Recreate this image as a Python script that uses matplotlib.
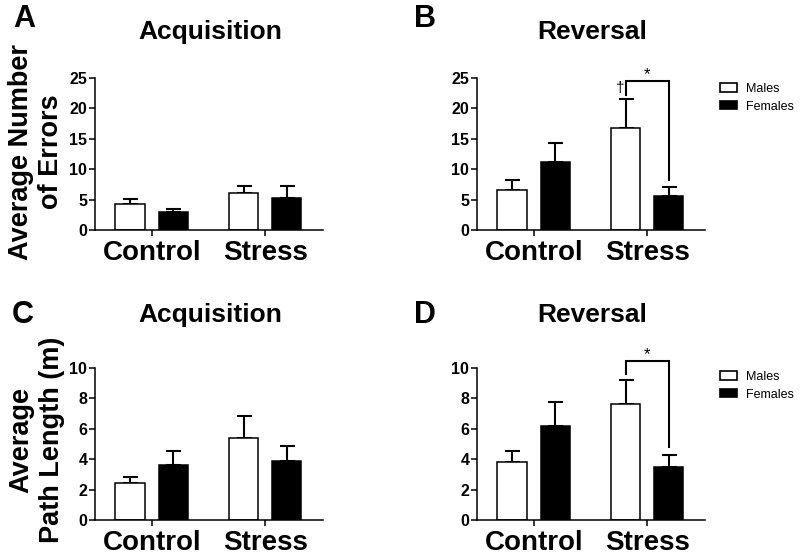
import matplotlib
matplotlib.use("Agg")
import matplotlib.pyplot as plt
from matplotlib.patches import Patch
import numpy as np

plt.rcParams['font.family'] = ['Liberation Sans', 'DejaVu Sans']

categories = ["Control", "Stress"]
groups = ["Males", "Females"]

# Panel A: acquisition errors
acq_err_m = [4.3, 6.15]
acq_err_m_sem = [0.75, 1.15]
acq_err_f = [2.9, 5.3]
acq_err_f_sem = [0.5, 2.0]
# Panel B: reversal errors
rev_err_m = [6.6, 16.75]
rev_err_m_sem = [1.65, 4.85]
rev_err_f = [11.15, 5.65]
rev_err_f_sem = [3.15, 1.4]
# Panel C: acquisition path length
acq_path_m = [2.4, 5.4]
acq_path_m_sem = [0.45, 1.42]
acq_path_f = [3.6, 3.87]
acq_path_f_sem = [0.93, 1.0]
# Panel D: reversal path length
rev_path_m = [3.83, 7.6]
rev_path_m_sem = [0.72, 1.62]
rev_path_f = [6.2, 3.5]
rev_path_f_sem = [1.57, 0.77]

W, H = 800, 557
fig = plt.figure(figsize=(W / 100, H / 100), dpi=100)

def fx(px):
    return px / W

def fy(py):
    return 1 - py / H

LW = 1.1
offset = 0.19
bw = 0.26

def make_panel(rect, m, msem, f, fsem, ymax, step, title, title_xy, letter, letter_xy):
    ax = fig.add_axes(rect)
    x = np.arange(len(categories))
    ax.bar(x - offset, m, width=bw, color='white', edgecolor='black', linewidth=LW, zorder=2)
    ax.bar(x + offset, f, width=bw, color='black', edgecolor='black', linewidth=LW, zorder=2)
    ax.errorbar(x - offset, m, yerr=[np.zeros(len(m)), msem], fmt='none', ecolor='black',
                elinewidth=1.5, capsize=5.4, capthick=1.5, zorder=1)
    ax.errorbar(x + offset, f, yerr=[np.zeros(len(f)), fsem], fmt='none', ecolor='black',
                elinewidth=1.5, capsize=5.4, capthick=1.5, zorder=1)
    ax.set_xlim(-0.5, 1.51)
    ax.set_ylim(0, ymax)
    ax.set_yticks(np.arange(0, ymax + 0.01, step))
    ax.set_xticks(x)
    ax.set_xticklabels(categories, fontsize=20, fontweight='bold')
    for lab in ax.get_yticklabels():
        lab.set_fontweight('bold')
        lab.set_fontsize(11.5)
    ax.tick_params(axis='y', length=4, width=LW, pad=1.5)
    ax.tick_params(axis='x', length=4, width=LW, pad=3)
    for s in ['top', 'right']:
        ax.spines[s].set_visible(False)
    for s in ['left', 'bottom']:
        ax.spines[s].set_linewidth(LW)
    fig.text(fx(title_xy[0]), fy(title_xy[1]), title, fontsize=19, fontweight='bold',
             ha='center', va='baseline')
    fig.text(fx(letter_xy[0]), fy(letter_xy[1]), letter, fontsize=22, fontweight='bold',
             ha='center', va='baseline')
    return ax

def add_legend(ax, top_px):
    handles = [Patch(facecolor='white', edgecolor='black', linewidth=1.2, label=groups[0]),
               Patch(facecolor='black', edgecolor='black', linewidth=1.2, label=groups[1])]
    ax.legend(handles=handles, loc='upper left', bbox_to_anchor=(fx(720), fy(top_px)),
              bbox_transform=fig.transFigure, frameon=False, fontsize=9,
              handlelength=1.35, handleheight=0.65, handletextpad=0.7,
              labelspacing=0.45, borderpad=0, borderaxespad=0)

def add_bracket(ax, xl, xr, ytop, yl, yr, star_y):
    ax.plot([xl, xl, xr, xr], [yl, ytop, ytop, yr], color='black', lw=1.5,
            clip_on=False, zorder=3, solid_joinstyle='miter')
    ax.text((xl + xr) / 2, star_y, '*', ha='center', va='center', fontsize=12,
            clip_on=False)

axA = make_panel([fx(95), fy(230), fx(228), 152 / H], acq_err_m, acq_err_m_sem,
                 acq_err_f, acq_err_f_sem, 25, 5, "Acquisition", (210, 39), "A", (24, 27))
axB = make_panel([fx(477), fy(230), fx(228), 152 / H], rev_err_m, rev_err_m_sem,
                 rev_err_f, rev_err_f_sem, 25, 5, "Reversal", (592, 39), "B", (425, 27))
axC = make_panel([fx(95), fy(520), fx(228), 152.3 / H], acq_path_m, acq_path_m_sem,
                 acq_path_f, acq_path_f_sem, 10, 2, "Acquisition", (210, 322), "C", (23, 323))
axD = make_panel([fx(477), fy(520), fx(228), 152.3 / H], rev_path_m, rev_path_m_sem,
                 rev_path_f, rev_path_f_sem, 10, 2, "Reversal", (592, 322), "D", (425, 323))

add_legend(axB, 83)
add_legend(axD, 371)

# significance brackets
add_bracket(axB, 1 - offset, 1 + offset, 24.45, 22.25,
            rev_err_f[1] + rev_err_f_sem[1] + 1.2, 25.6)
axB.text(1 - offset - 0.05, 23.3, '\u2020', ha='center', va='center', fontsize=11,
         clip_on=False)
add_bracket(axD, 1 - offset, 1 + offset, 10.44, 9.56,
            rev_path_f[1] + rev_path_f_sem[1] + 0.55, 10.85)

# y labels
fig.text(fx(36), fy(152), "Average Number\nof Errors", rotation=90, fontsize=19.5,
         fontweight='bold', ha='center', va='center', multialignment='center',
         linespacing=1.22)
fig.text(fx(37), fy(440), "Average\nPath Length (m)", rotation=90, fontsize=19.5,
         fontweight='bold', ha='center', va='center', multialignment='center',
         linespacing=1.22)

fig.savefig("out.png", dpi=100, facecolor='white')
